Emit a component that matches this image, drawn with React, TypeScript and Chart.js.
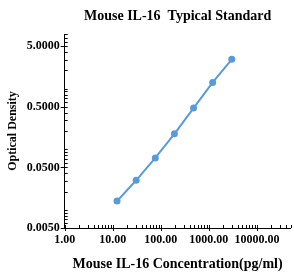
import React, { useEffect, useRef } from "react";
import { Chart, registerables } from "chart.js";

Chart.register(...registerables);

const concentrations = [12.29, 30.72, 76.8, 192, 480, 1200, 3000];
const opticalDensity = [0.0139, 0.0307, 0.0718, 0.1795, 0.478, 1.268, 3.05];
const xMajorTicks = [1, 10, 100, 1000, 10000];
const yMajorTicks = [0.005, 0.05, 0.5, 5];
const chartTitle = "Mouse IL-16  Typical Standard";
const xTitle = "Mouse IL-16 Concentration(pg/ml)";
const yTitle = "Optical Density";

const FONT = "'Liberation Serif', 'Times New Roman', serif";

const tickPlugin = {
  id: "logTicks",
  afterDraw(chart: any) {
    const { ctx, chartArea, scales } = chart;
    const xs = scales.x;
    const ys = scales.y;
    ctx.save();
    ctx.strokeStyle = "#000";
    ctx.lineWidth = 1;
    const inRangeX = (v: number) => v >= xs.min && v <= xs.max;
    const inRangeY = (v: number) => v >= ys.min && v <= ys.max;
    for (let e = -1; e <= 6; e++) {
      for (let k = 1; k <= 9; k++) {
        const v = k * Math.pow(10, e);
        if (!inRangeX(v)) continue;
        const px = Math.round(xs.getPixelForValue(v)) + 0.5;
        const major = k === 1;
        ctx.beginPath();
        ctx.moveTo(px, chartArea.bottom - 3);
        ctx.lineTo(px, chartArea.bottom + (major ? 3 : 0));
        ctx.stroke();
      }
    }
    for (let e = -4; e <= 2; e++) {
      for (let k = 1; k <= 9; k++) {
        const v = k * Math.pow(10, e);
        if (!inRangeY(v)) continue;
        const py = Math.round(ys.getPixelForValue(v)) + 0.5;
        const major = k === 5;
        ctx.beginPath();
        ctx.moveTo(chartArea.left - (major ? 4 : 0), py);
        ctx.lineTo(chartArea.left + 3, py);
        ctx.stroke();
      }
    }
    ctx.restore();
  },
};

export default function App() {
  const ref = useRef<HTMLCanvasElement | null>(null);
  useEffect(() => {
    if (!ref.current) return;
    const chart = new Chart(ref.current, {
      type: "line",
      data: {
        datasets: [
          {
            data: concentrations.map((x, i) => ({ x, y: opticalDensity[i] })),
            borderColor: "#5B9BD5",
            backgroundColor: "#5B9BD5",
            borderWidth: 2,
            pointRadius: 3.5,
            pointHoverRadius: 3.5,
            pointBorderWidth: 0,
            tension: 0,
          },
        ],
      },
      options: {
        responsive: false,
        animation: false,
        layout: { padding: { left: 0, right: 0, top: 0, bottom: 0 } },
        plugins: {
          legend: { display: false },
          tooltip: { enabled: false },
          title: {
            display: true,
            text: chartTitle,
            fullSize: false,
            color: "#000",
            font: { family: FONT, size: 14, weight: "bold" },
            padding: { top: 8, bottom: 9.2 },
          },
        },
        scales: {
          x: {
            type: "logarithmic",
            min: 1,
            max: 50000,
            afterBuildTicks: (s: any) => {
              s.ticks = xMajorTicks.map((v) => ({ value: v }));
            },
            afterFit: (s: any) => {
              s.height = 45;
            },
            grid: { display: false, drawTicks: false },
            border: { display: true, color: "#000", width: 1 },
            ticks: {
              autoSkip: false,
              maxRotation: 0,
              padding: 5,
              color: "#000",
              font: { family: FONT, size: 12, weight: "bold" },
              callback: (v: any) => Number(v).toFixed(2),
            },
            title: {
              display: true,
              text: xTitle,
              color: "#000",
              font: { family: FONT, size: 14, weight: "bold" },
              padding: { top: 0, bottom: 0 },
            },
          },
          y: {
            type: "logarithmic",
            min: 0.005,
            max: 8,
            afterBuildTicks: (s: any) => {
              s.ticks = yMajorTicks.map((v) => ({ value: v }));
            },
            afterFit: (s: any) => {
              s.width = 64.7;
            },
            grid: { display: false, drawTicks: false },
            border: { display: true, color: "#000", width: 1 },
            ticks: {
              autoSkip: false,
              padding: 5,
              color: "#000",
              font: { family: FONT, size: 12, weight: "bold" },
              callback: (v: any) => Number(v).toFixed(4),
            },
            title: {
              display: true,
              text: yTitle,
              color: "#000",
              font: { family: FONT, size: 12, weight: "bold" },
              padding: { top: 6, bottom: 0 },
            },
          },
        },
      },
      plugins: [tickPlugin],
    } as any);
    return () => chart.destroy();
  }, []);
  return (
    <div style={{ position: "fixed", left: 0, top: 0, width: 294, height: 273, background: "#fff" }}>
      <canvas ref={ref} width={294} height={273} style={{ display: "block" }} />
    </div>
  );
}
